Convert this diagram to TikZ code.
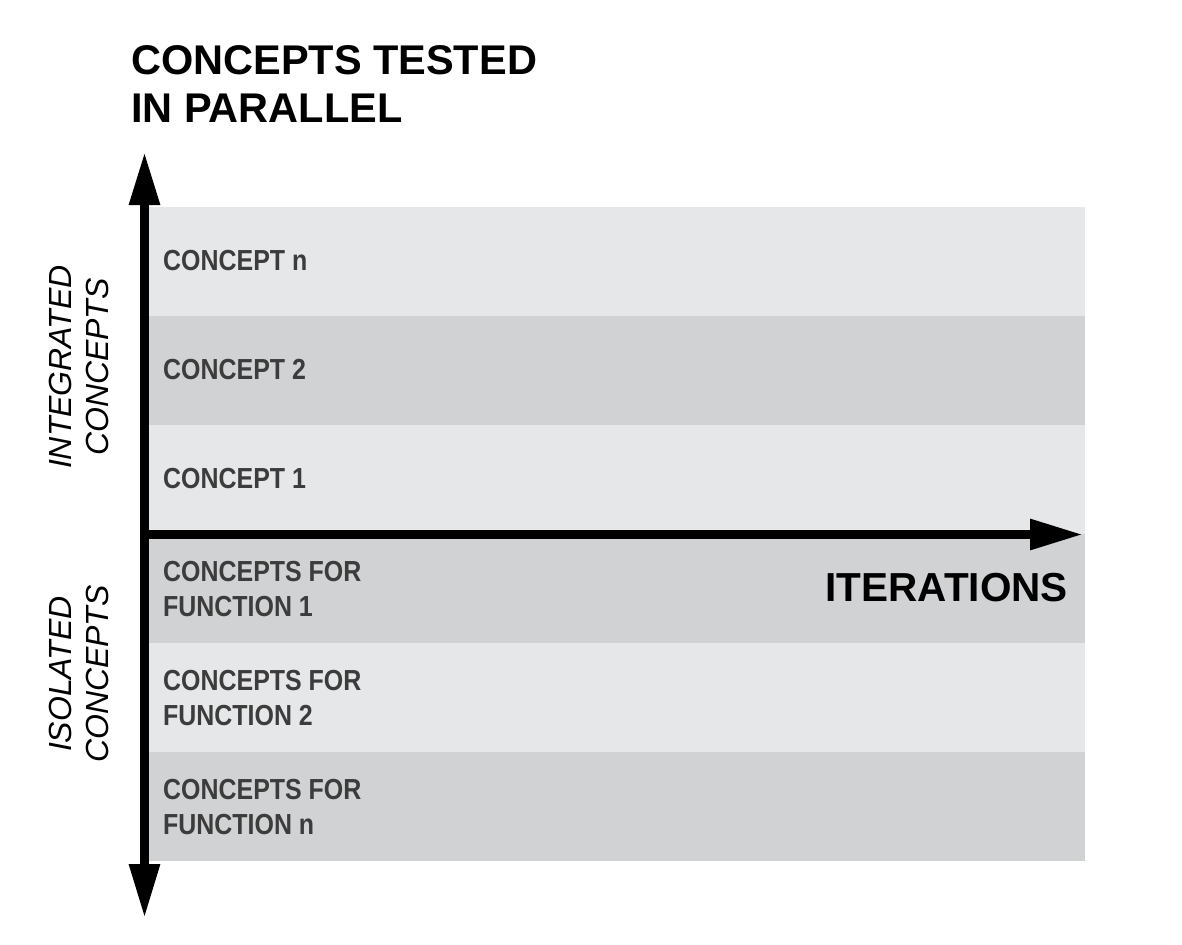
\documentclass[tikz,border=0pt]{standalone}
\usepackage{fontspec}
\setmainfont{Liberation Sans}
\newfontfamily\condb[FakeStretch=0.86]{Liberation Sans}
\usetikzlibrary{arrows.meta}
\definecolor{bandlight}{HTML}{E6E7E9}
\definecolor{banddark}{HTML}{D1D2D4}
\definecolor{rowtext}{HTML}{3C3C3C}
\tikzset{
  rowlabel/.style={anchor=west, inner sep=0pt, align=left, text=rowtext,
    font=\condb\bfseries\fontsize{29}{35}\selectfont},
  sidelabel/.style={rotate=90, inner sep=0pt, align=center,
    font=\itshape\fontsize{32}{37}\selectfont},
  axisline/.style={line width=9pt, black},
  bigtip/.style={-{Triangle[length=53pt,width=29pt]}},
}
\begin{document}
\begin{tikzpicture}[x=1pt,y=-1pt]
\useasboundingbox (0,0) rectangle (1182,944);
% bands
\fill[bandlight] (148,207) rectangle (1085,316);
\fill[banddark]  (148,316) rectangle (1085,425);
\fill[bandlight] (148,425) rectangle (1085,534);
\fill[banddark]  (148,534) rectangle (1085,643);
\fill[bandlight] (148,643) rectangle (1085,752);
\fill[banddark]  (148,752) rectangle (1085,861);
% row labels
\node[rowlabel] (cn) at (163,261) {CONCEPT n};
\node[rowlabel] (c2) at (163,370) {CONCEPT 2};
\node[rowlabel] (c1) at (163,479) {CONCEPT 1};
\node[rowlabel] (f1) at (163,589) {CONCEPTS FOR\\FUNCTION 1};
\node[rowlabel] (f2) at (163,698) {CONCEPTS FOR\\FUNCTION 2};
\node[rowlabel] (fn) at (163,807) {CONCEPTS FOR\\FUNCTION n};
% axes
\coordinate (vtop) at (144.5,152);
\coordinate (vbot) at (144.5,918);
\coordinate (hstart) at (140,534.5);
\coordinate (hend) at (1083,534.5);
\draw[axisline,{Triangle[length=53pt,width=29pt]}-{Triangle[length=54pt,width=29pt]}] (vtop) -- (vbot);
\draw[axisline,bigtip] (hstart) -- (hend);
% title
\node[anchor=north west, inner sep=0pt, align=left,
  font=\bfseries\fontsize{41.5}{48}\selectfont] (title) at (131,45) {CONCEPTS TESTED\\IN PARALLEL};
% axis labels
\node[anchor=east, inner sep=0pt, font=\bfseries\fontsize{40.5}{48}\selectfont] (iter) at (1068,587.5) {ITERATIONS};
\node[sidelabel] (integ) at (79,367) {INTEGRATED\\CONCEPTS};
\node[sidelabel] (isol) at (79,674) {ISOLATED\\CONCEPTS};
\end{tikzpicture}
\end{document}
